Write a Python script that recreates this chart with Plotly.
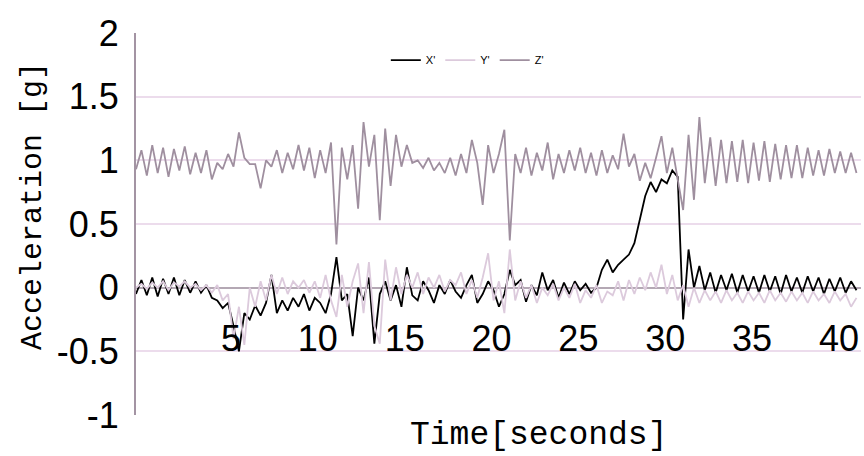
import plotly.graph_objects as go

# Accelerometer samples, one every 0.3 s starting at t = 0
SAMPLE_START = 0.0
SAMPLE_STEP = 0.3

series_names = ["X'", "Y'", "Z'"]

accel_x = [
    -0.05, 0.06, -0.06, 0.08, -0.07, 0.07, -0.05, 0.08, -0.06, 0.06,
    -0.04, 0.05, -0.04, 0.02, -0.08, -0.10, -0.16, -0.12, -0.30, -0.50,
    -0.20, -0.25, -0.14, -0.22, -0.12, 0.10, -0.20, -0.10, -0.18, -0.08,
    -0.15, -0.05, -0.18, -0.08, -0.12, -0.20, -0.05, 0.24, -0.10, -0.05,
    -0.38, 0.00, -0.10, 0.08, -0.44, -0.05, 0.05, -0.10, 0.02, -0.15,
    0.16, -0.06, -0.10, 0.05, -0.02, -0.12, 0.02, -0.05, 0.06, -0.03,
    -0.08, 0.02, 0.10, -0.12, -0.05, 0.05, -0.02, -0.15, -0.05, 0.14,
    0.02, 0.06, -0.11, 0.02, -0.06, 0.12, -0.02, 0.06, -0.08, 0.04,
    -0.05, 0.05, -0.02, 0.03, -0.04, 0.00, 0.14, 0.22, 0.12, 0.18,
    0.22, 0.26, 0.35, 0.53, 0.72, 0.83, 0.75, 0.85, 0.82, 0.92,
    0.87, -0.25, 0.30, 0.00, 0.17, -0.02, 0.12, -0.04, 0.10, -0.02,
    0.11, -0.04, 0.10, -0.03, 0.09, -0.04, 0.10, -0.03, 0.09, -0.05,
    0.10, -0.03, 0.08, -0.04, 0.09, -0.03, 0.08, -0.05, 0.07, -0.03,
    0.08, -0.04, 0.05, -0.02,
]

accel_y = [
    0.00, 0.03, -0.01, 0.04, 0.00, 0.05, -0.02, 0.04, 0.01, 0.05,
    0.00, 0.03, -0.02, 0.02, -0.04, 0.02, -0.10, -0.05, -0.40, -0.15,
    -0.45, 0.00, -0.15, 0.05, -0.10, 0.10, -0.05, 0.08, -0.05, 0.05,
    0.00, 0.06, -0.04, 0.05, -0.08, 0.10, -0.10, -0.23, 0.10, -0.15,
    0.05, 0.19, -0.20, 0.20, -0.30, -0.44, 0.22, -0.10, 0.16, -0.05,
    0.10, 0.00, 0.12, -0.05, 0.08, 0.00, 0.10, -0.03, 0.06, 0.02,
    0.12, -0.05, 0.06, -0.08, 0.08, 0.27, -0.10, 0.05, -0.20, 0.30,
    -0.10, 0.05, -0.08, 0.02, -0.12, 0.00, -0.06, 0.03, -0.10, 0.00,
    -0.08, 0.03, -0.12, -0.02, -0.08, 0.02, -0.12, -0.03, -0.06, 0.05,
    -0.10, 0.06, -0.05, 0.08, -0.02, 0.12, 0.00, 0.18, -0.05, 0.10,
    -0.10, 0.02, -0.15, 0.00, -0.12, -0.02, -0.10, -0.03, -0.12, -0.02,
    -0.10, -0.04, -0.12, -0.03, -0.10, -0.04, -0.12, -0.02, -0.10, -0.04,
    -0.11, -0.03, -0.10, -0.04, -0.12, -0.03, -0.10, -0.05, -0.12, -0.03,
    -0.10, -0.05, -0.15, -0.08,
]

accel_z = [
    0.93, 1.08, 0.88, 1.12, 0.90, 1.10, 0.87, 1.09, 0.92, 1.11,
    0.89, 1.06, 0.90, 1.08, 0.85, 0.98, 0.93, 1.05, 0.95, 1.22,
    1.02, 0.97, 0.97, 0.78, 1.00, 0.95, 1.08, 0.90, 1.06, 0.93,
    1.12, 0.92, 1.10, 0.86, 1.08, 0.90, 1.14, 0.34, 1.10, 0.85,
    1.12, 0.62, 1.30, 0.95, 1.20, 0.53, 1.25, 0.80, 1.20, 0.95,
    1.12, 0.98, 1.00, 0.94, 1.02, 0.92, 0.98, 0.90, 1.02, 0.88,
    1.05, 0.90, 1.16, 0.98, 0.65, 1.12, 0.90, 1.05, 1.24, 0.37,
    1.05, 0.90, 1.10, 0.88, 1.06, 0.92, 1.14, 0.85, 1.05, 0.90,
    1.08, 0.92, 1.10, 0.90, 1.06, 0.88, 1.08, 0.90, 1.04, 0.93,
    1.21, 0.95, 1.05, 0.84, 0.98, 0.86, 1.02, 1.19, 0.90, 1.10,
    0.85, 0.61, 1.20, 0.69, 1.34, 0.82, 1.18, 0.80, 1.16, 0.82,
    1.15, 0.83, 1.16, 0.82, 1.14, 0.84, 1.15, 0.83, 1.13, 0.85,
    1.12, 0.86, 1.12, 0.86, 1.10, 0.88, 1.08, 0.88, 1.09, 0.90,
    1.07, 0.90, 1.06, 0.90,
]

assert len(accel_x) == len(accel_y) == len(accel_z)

time_ticks = [5, 10, 15, 20, 25, 30, 35, 40]
time_tick_labels = ["5", "10", "15", "20", "25", "30", "35", "40"]
accel_ticks = [-1, -0.5, 0, 0.5, 1, 1.5, 2]
accel_tick_labels = ["-1", "-0.5", "0", "0.5", "1", "1.5", "2"]

x_title = "Time[seconds]"
y_title = "Acceleration [g]"

series_colors = ["#000000", "#dccadc", "#9f8f9f"]
series_values = [accel_x, accel_y, accel_z]

TICK_FONT = dict(family="Liberation Sans", size=36, color="#000000")
TITLE_FAMILY = "Liberation Mono"

fig = go.Figure()
for name, values, color in zip(series_names, series_values, series_colors):
    fig.add_trace(
        go.Scatter(
            x0=SAMPLE_START,
            dx=SAMPLE_STEP,
            y=values,
            mode="lines",
            name=name,
            line=dict(color=color, width=1.8),
            xaxis="x",
            yaxis="y",
        )
    )

# empty trace so the labelled time scale gets drawn
fig.add_trace(
    go.Scatter(x=[], y=[], xaxis="x2", yaxis="y", showlegend=False, hoverinfo="skip")
)

fig.update_layout(
    width=864,
    height=456,
    margin=dict(l=136, r=3, t=33, b=41),
    plot_bgcolor="#ffffff",
    paper_bgcolor="#ffffff",
    showlegend=True,
    legend=dict(
        orientation="h",
        x=0.457,
        y=0.929,
        xanchor="center",
        yanchor="middle",
        font=dict(family="Liberation Sans", size=11, color="#000000"),
        bgcolor="rgba(0,0,0,0)",
        itemwidth=30,
    ),
    # time axis carrying the data
    xaxis=dict(
        range=[0, 40.15],
        showticklabels=False,
        showgrid=False,
        zeroline=False,
        showline=False,
        ticks="",
        automargin=False,
    ),
    # labelled time scale drawn along the zero line
    xaxis2=dict(
        overlaying="x",
        anchor="free",
        position=1 / 3,
        range=[-0.466, 41.27],
        tickmode="array",
        tickvals=time_ticks,
        ticktext=time_tick_labels,
        tickfont=TICK_FONT,
        showgrid=False,
        zeroline=False,
        showline=False,
        ticks="",
        ticklabelstandoff=26,
        automargin=False,
    ),
    yaxis=dict(
        range=[-1, 2],
        tickmode="array",
        tickvals=accel_ticks,
        ticktext=accel_tick_labels,
        tickfont=TICK_FONT,
        showgrid=True,
        gridcolor="#ecdcec",
        gridwidth=2,
        showline=True,
        linecolor="#a394a3",
        linewidth=2,
        zeroline=True,
        zerolinecolor="#b4a8b4",
        zerolinewidth=2,
        ticks="",
        ticklabelstandoff=8,
        automargin=False,
    ),
    annotations=[
        dict(
            text=x_title,
            xref="paper",
            yref="paper",
            x=0.555,
            y=-0.105,
            xanchor="center",
            yanchor="bottom",
            borderpad=0,
            showarrow=False,
            font=dict(family=TITLE_FAMILY, size=33, color="#000000"),
        ),
        dict(
            text=y_title,
            xref="paper",
            yref="paper",
            x=-0.142,
            y=0.547,
            xanchor="center",
            yanchor="middle",
            textangle=-90,
            showarrow=False,
            font=dict(family=TITLE_FAMILY, size=30, color="#000000"),
        ),
    ],
)

fig.write_html("out.html")
